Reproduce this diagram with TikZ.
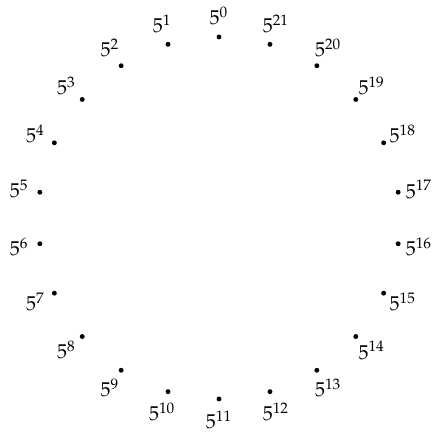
\documentclass[tikz,border=0pt]{standalone}
\usepackage{mathpazo}
\usetikzlibrary{calc}
\begin{document}
\begin{tikzpicture}[x=0.55pt,y=0.55pt,
  dotnode/.style={circle,fill=black,inner sep=0pt,minimum size=2.7pt},
  lblnode/.style={inner sep=0pt,font=\fontsize{11}{13}\selectfont}]
\useasboundingbox (0,0) rectangle (435,434);
\coordinate (c) at (219,216);
\foreach \k in {0,...,21}{
  \pgfmathsetmacro{\ang}{90+\k*360/22}
  \node[dotnode] (d\k) at ($(c)+(\ang:181)$) {};
  \node[lblnode] (l\k) at ($(c)+(\ang:202)$) {$5^{\k}$};
}
\end{tikzpicture}
\end{document}
